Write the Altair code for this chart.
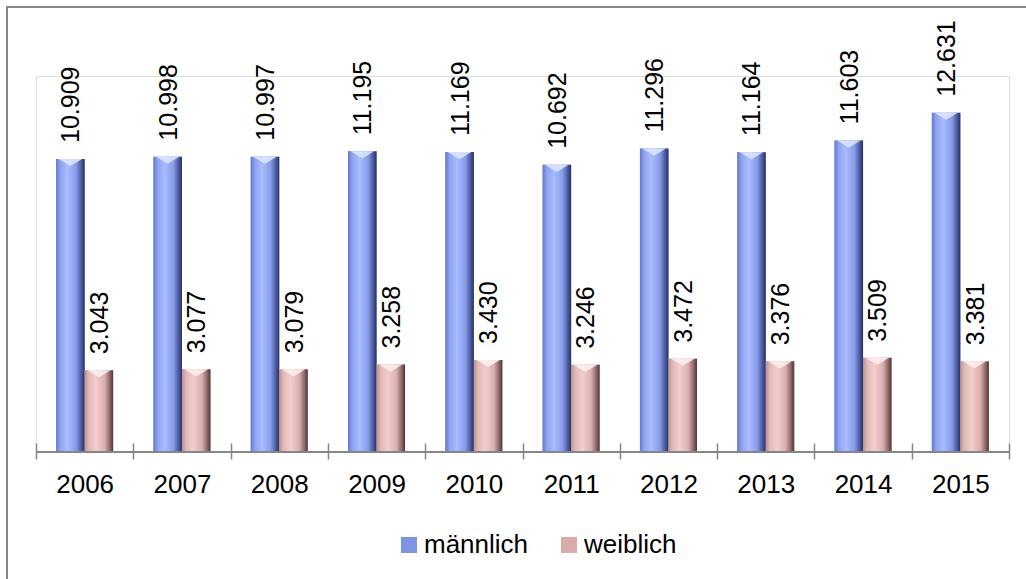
import altair as alt
import pandas as pd

# Jahre und Werte (in Tausend) nach Geschlecht
years = ["2006", "2007", "2008", "2009", "2010", "2011", "2012", "2013", "2014", "2015"]
maennlich = [10.909, 10.998, 10.997, 11.195, 11.169, 10.692, 11.296, 11.164, 11.603, 12.631]
weiblich = [3.043, 3.077, 3.079, 3.258, 3.430, 3.246, 3.472, 3.376, 3.509, 3.381]
series = ["männlich", "weiblich"]

rows = []
for i, y in enumerate(years):
    rows.append({"Jahr": y, "Geschlecht": series[0], "Wert": maennlich[i]})
    rows.append({"Jahr": y, "Geschlecht": series[1], "Wert": weiblich[i]})
df = pd.DataFrame(rows)

FONT = "Liberation Sans"
W, H = 973, 376

x_enc = alt.X("Jahr:N", sort=years, title=None,
              scale=alt.Scale(paddingInner=0, paddingOuter=0),
              axis=alt.Axis(labelAngle=0, labelFontSize=26, labelFont=FONT, labelColor="#000000",
                            domain=False, ticks=True, tickBand="extent", tickSize=16,
                            tickColor="#868686", tickWidth=1.5, offset=-9, labelPadding=12,
                            grid=False))
xo_enc = alt.XOffset("Geschlecht:N", sort=series,
                     scale=alt.Scale(domain=series, paddingInner=0, paddingOuter=0.707))
y_enc = alt.Y("Wert:Q", scale=alt.Scale(domain=[0, 14], nice=False), axis=None)

base = alt.Chart(df)

# solid bars (carry the legend)
bars = base.mark_bar().encode(
    x=x_enc, xOffset=xo_enc, y=y_enc,
    color=alt.Color("Geschlecht:N", sort=series,
                    scale=alt.Scale(domain=series, range=["#7f93e3", "#d9abab"]),
                    legend=alt.Legend(title=None, orient="none", legendX=360, legendY=456,
                                      direction="horizontal", labelFontSize=26, labelFont=FONT,
                                      labelColor="#000000", symbolType="square", symbolSize=256,
                                      symbolStrokeWidth=0, labelOffset=2, columnPadding=27,
                                      padding=0)),
)


def grad(stops):
    return alt.Gradient(gradient="linear", x1=0, x2=1, y1=0, y2=0,
                        stops=[alt.GradientStop(offset=o, color=c) for o, c in stops])


blue = grad([(0, "#6679c9"), (0.15, "#8fa3f1"), (0.4, "#a9bcff"), (0.7, "#879be8"),
             (0.88, "#4c5ba0"), (1, "#27315f")])
pink = grad([(0, "#b99191"), (0.15, "#e1b9b9"), (0.4, "#f5cdcd"), (0.7, "#d9afaf"),
             (0.88, "#916969"), (1, "#4b3535")])

bars_m = base.mark_bar(color=blue).encode(x=x_enc, xOffset=xo_enc, y=y_enc).transform_filter(
    alt.datum.Geschlecht == "männlich")
bars_w = base.mark_bar(color=pink).encode(x=x_enc, xOffset=xo_enc, y=y_enc).transform_filter(
    alt.datum.Geschlecht == "weiblich")

# bevel highlight at the top of each bar
caps = base.mark_point(shape="M-1,0L1,0L0,0.6Z", filled=True, size=560, opacity=0.85,
                       strokeWidth=0).encode(
    x=x_enc, xOffset=xo_enc, y=y_enc,
    fill=alt.condition(alt.datum.Geschlecht == "männlich", alt.value("#dfe8ff"), alt.value("#fff0f0")),
)

labels = base.mark_text(angle=270, align="left", baseline="middle", dx=16, dy=1,
                        fontSize=25, font=FONT, color="#000000").encode(
    x=x_enc, xOffset=xo_enc, y=y_enc, text=alt.Text("Wert:Q", format=".3f"))

baseline = alt.Chart(df).mark_rule(color="#868686", strokeWidth=1.5).encode(
    x=alt.value(0), x2=alt.value(W), y=alt.value(H))

# chart frame: top and left edges lie inside the canvas
frame = alt.Chart(df).mark_rect(fillOpacity=0, stroke="#888888", strokeWidth=2).encode(
    x=alt.value(-29), x2=alt.value(1010), y=alt.value(-69), y2=alt.value(530))

chart = alt.layer(frame, bars, bars_m, bars_w, caps, baseline, labels).properties(
    width=W, height=H,
    padding={"left": 36, "top": 76, "right": 17, "bottom": 127},
    autosize=alt.AutoSizeParams(type="none"),
).configure_view(stroke=None).configure(background="#ffffff")

chart.save("out.html", embed_options={"renderer": "svg", "actions": False})
